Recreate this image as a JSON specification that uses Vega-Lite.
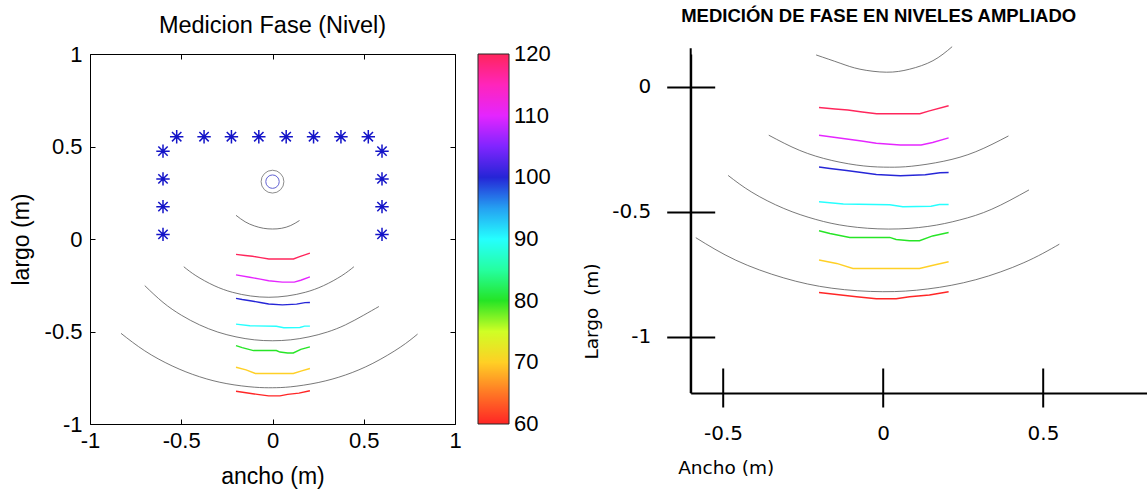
{
  "$schema": "https://vega.github.io/schema/vega-lite/v6.json",
  "background": "white",
  "padding": {"left": 10, "top": 6, "right": 0, "bottom": 0},
  "bounds": "flush",
  "spacing": 235.7,
  "config": {"view": {"stroke": null}, "font": "Liberation Sans"},
  "datasets": {
    "contornos": [
      {"l": "c120", "nivel": 120, "x": -0.2, "y": -0.083}, {"l": "c120", "nivel": 120, "x": -0.15, "y": -0.089}, {"l": "c120", "nivel": 120, "x": -0.11, "y": -0.093}, {"l": "c120", "nivel": 120, "x": -0.065, "y": -0.101}, {"l": "c120", "nivel": 120, "x": -0.02, "y": -0.108}, {"l": "c120", "nivel": 120, "x": 0.115, "y": -0.108}, {"l": "c120", "nivel": 120, "x": 0.145, "y": -0.097}, {"l": "c120", "nivel": 120, "x": 0.205, "y": -0.076},
      {"l": "c110", "nivel": 110, "x": -0.2, "y": -0.194}, {"l": "c110", "nivel": 110, "x": -0.125, "y": -0.207}, {"l": "c110", "nivel": 110, "x": -0.067, "y": -0.217}, {"l": "c110", "nivel": 110, "x": -0.021, "y": -0.226}, {"l": "c110", "nivel": 110, "x": 0.054, "y": -0.233}, {"l": "c110", "nivel": 110, "x": 0.119, "y": -0.233}, {"l": "c110", "nivel": 110, "x": 0.155, "y": -0.223}, {"l": "c110", "nivel": 110, "x": 0.205, "y": -0.205},
      {"l": "c100", "nivel": 100, "x": -0.2, "y": -0.321}, {"l": "c100", "nivel": 100, "x": -0.166, "y": -0.327}, {"l": "c100", "nivel": 100, "x": -0.114, "y": -0.335}, {"l": "c100", "nivel": 100, "x": -0.067, "y": -0.343}, {"l": "c100", "nivel": 100, "x": -0.021, "y": -0.351}, {"l": "c100", "nivel": 100, "x": 0.054, "y": -0.356}, {"l": "c100", "nivel": 100, "x": 0.132, "y": -0.352}, {"l": "c100", "nivel": 100, "x": 0.178, "y": -0.344}, {"l": "c100", "nivel": 100, "x": 0.205, "y": -0.343},
      {"l": "c90", "nivel": 90, "x": -0.2, "y": -0.46}, {"l": "c90", "nivel": 90, "x": -0.124, "y": -0.469}, {"l": "c90", "nivel": 90, "x": 0.021, "y": -0.472}, {"l": "c90", "nivel": 90, "x": 0.062, "y": -0.48}, {"l": "c90", "nivel": 90, "x": 0.15, "y": -0.478}, {"l": "c90", "nivel": 90, "x": 0.176, "y": -0.471}, {"l": "c90", "nivel": 90, "x": 0.205, "y": -0.471},
      {"l": "c80", "nivel": 80, "x": -0.2, "y": -0.576}, {"l": "c80", "nivel": 80, "x": -0.166, "y": -0.587}, {"l": "c80", "nivel": 80, "x": -0.104, "y": -0.603}, {"l": "c80", "nivel": 80, "x": 0.021, "y": -0.603}, {"l": "c80", "nivel": 80, "x": 0.041, "y": -0.611}, {"l": "c80", "nivel": 80, "x": 0.083, "y": -0.616}, {"l": "c80", "nivel": 80, "x": 0.114, "y": -0.616}, {"l": "c80", "nivel": 80, "x": 0.155, "y": -0.597}, {"l": "c80", "nivel": 80, "x": 0.205, "y": -0.583},
      {"l": "c70", "nivel": 70, "x": -0.2, "y": -0.693}, {"l": "c70", "nivel": 70, "x": -0.145, "y": -0.707}, {"l": "c70", "nivel": 70, "x": -0.094, "y": -0.727}, {"l": "c70", "nivel": 70, "x": 0.114, "y": -0.727}, {"l": "c70", "nivel": 70, "x": 0.16, "y": -0.713}, {"l": "c70", "nivel": 70, "x": 0.205, "y": -0.7},
      {"l": "c60", "nivel": 60, "x": -0.2, "y": -0.823}, {"l": "c60", "nivel": 60, "x": -0.145, "y": -0.831}, {"l": "c60", "nivel": 60, "x": -0.083, "y": -0.84}, {"l": "c60", "nivel": 60, "x": -0.021, "y": -0.848}, {"l": "c60", "nivel": 60, "x": 0.041, "y": -0.848}, {"l": "c60", "nivel": 60, "x": 0.083, "y": -0.84}, {"l": "c60", "nivel": 60, "x": 0.145, "y": -0.833}, {"l": "c60", "nivel": 60, "x": 0.205, "y": -0.82}
    ],
    "arcosIzq": [
      {"a": "L1", "x": -0.2, "y": 0.128}, {"a": "L1", "x": -0.15, "y": 0.093}, {"a": "L1", "x": -0.1, "y": 0.071}, {"a": "L1", "x": -0.05, "y": 0.058}, {"a": "L1", "x": 0, "y": 0.054}, {"a": "L1", "x": 0.05, "y": 0.058}, {"a": "L1", "x": 0.1, "y": 0.073}, {"a": "L1", "x": 0.148, "y": 0.1},
      {"a": "L2", "x": -0.486, "y": -0.15}, {"a": "L2", "x": -0.42, "y": -0.198}, {"a": "L2", "x": -0.32, "y": -0.252}, {"a": "L2", "x": -0.22, "y": -0.288}, {"a": "L2", "x": -0.12, "y": -0.308}, {"a": "L2", "x": -0.02, "y": -0.315}, {"a": "L2", "x": 0.08, "y": -0.308}, {"a": "L2", "x": 0.18, "y": -0.288}, {"a": "L2", "x": 0.28, "y": -0.252}, {"a": "L2", "x": 0.38, "y": -0.198}, {"a": "L2", "x": 0.446, "y": -0.15},
      {"a": "L3", "x": -0.7, "y": -0.252}, {"a": "L3", "x": -0.6, "y": -0.3425}, {"a": "L3", "x": -0.5, "y": -0.4115}, {"a": "L3", "x": -0.4, "y": -0.464}, {"a": "L3", "x": -0.3, "y": -0.503}, {"a": "L3", "x": -0.2, "y": -0.529}, {"a": "L3", "x": -0.1, "y": -0.545}, {"a": "L3", "x": 0, "y": -0.55}, {"a": "L3", "x": 0.1, "y": -0.545}, {"a": "L3", "x": 0.2, "y": -0.529}, {"a": "L3", "x": 0.3, "y": -0.503}, {"a": "L3", "x": 0.4, "y": -0.464}, {"a": "L3", "x": 0.5, "y": -0.4115}, {"a": "L3", "x": 0.583, "y": -0.365},
      {"a": "L4", "x": -0.83, "y": -0.51}, {"a": "L4", "x": -0.7, "y": -0.6045}, {"a": "L4", "x": -0.55, "y": -0.686}, {"a": "L4", "x": -0.4, "y": -0.7445}, {"a": "L4", "x": -0.25, "y": -0.782}, {"a": "L4", "x": -0.1, "y": -0.801}, {"a": "L4", "x": 0, "y": -0.804}, {"a": "L4", "x": 0.1, "y": -0.799}, {"a": "L4", "x": 0.25, "y": -0.776}, {"a": "L4", "x": 0.4, "y": -0.735}, {"a": "L4", "x": 0.55, "y": -0.672}, {"a": "L4", "x": 0.7, "y": -0.585}, {"a": "L4", "x": 0.795, "y": -0.514}
    ],
    "arcosDer": [
      {"a": "R1", "x": -0.209, "y": 0.127}, {"a": "R1", "x": -0.134, "y": 0.094}, {"a": "R1", "x": -0.072, "y": 0.07}, {"a": "R1", "x": 0.011, "y": 0.058}, {"a": "R1", "x": 0.083, "y": 0.07}, {"a": "R1", "x": 0.156, "y": 0.104}, {"a": "R1", "x": 0.216, "y": 0.16},
      {"a": "R2", "x": -0.357, "y": -0.194}, {"a": "R2", "x": -0.26, "y": -0.255}, {"a": "R2", "x": -0.16, "y": -0.295}, {"a": "R2", "x": -0.06, "y": -0.317}, {"a": "R2", "x": 0.02, "y": -0.322}, {"a": "R2", "x": 0.09, "y": -0.318}, {"a": "R2", "x": 0.19, "y": -0.298}, {"a": "R2", "x": 0.29, "y": -0.26}, {"a": "R2", "x": 0.392, "y": -0.197},
      {"a": "R3", "x": -0.484, "y": -0.355}, {"a": "R3", "x": -0.41, "y": -0.422}, {"a": "R3", "x": -0.31, "y": -0.487}, {"a": "R3", "x": -0.21, "y": -0.531}, {"a": "R3", "x": -0.11, "y": -0.558}, {"a": "R3", "x": 0.017, "y": -0.5695}, {"a": "R3", "x": 0.14, "y": -0.559}, {"a": "R3", "x": 0.24, "y": -0.533}, {"a": "R3", "x": 0.34, "y": -0.49}, {"a": "R3", "x": 0.456, "y": -0.413},
      {"a": "R4", "x": -0.585, "y": -0.604}, {"a": "R4", "x": -0.46, "y": -0.694}, {"a": "R4", "x": -0.31, "y": -0.765}, {"a": "R4", "x": -0.16, "y": -0.806}, {"a": "R4", "x": -0.001, "y": -0.82}, {"a": "R4", "x": 0.14, "y": -0.809}, {"a": "R4", "x": 0.29, "y": -0.772}, {"a": "R4", "x": 0.44, "y": -0.704}, {"a": "R4", "x": 0.551, "y": -0.63}
    ],
    "estrellas": [
      {"x": -0.6, "y": 0.475}, {"x": -0.6, "y": 0.325}, {"x": -0.6, "y": 0.175}, {"x": -0.6, "y": 0.025},
      {"x": 0.6, "y": 0.475}, {"x": 0.6, "y": 0.325}, {"x": 0.6, "y": 0.175}, {"x": 0.6, "y": 0.025},
      {"x": -0.525, "y": 0.553}, {"x": -0.375, "y": 0.553}, {"x": -0.225, "y": 0.553}, {"x": -0.075, "y": 0.553},
      {"x": 0.075, "y": 0.553}, {"x": 0.225, "y": 0.553}, {"x": 0.375, "y": 0.553}, {"x": 0.525, "y": 0.553}
    ],
    "fuente": [{"x": 0, "y": 0.31}],
    "ejeVertical": [{"x": -0.601, "ytop": 0.154, "ybase": -1.2252}]
  },
  "resolve": {"scale": {"color": "independent"}},
  "hconcat": [
    {
      "width": 365,
      "height": 370,
      "view": {"stroke": "black", "strokeWidth": 1},
      "title": {"text": "Medicion Fase (Nivel)", "font": "Liberation Sans", "fontSize": 23.5, "fontWeight": "normal", "color": "black", "frame": "group", "anchor": "middle", "baseline": "alphabetic", "offset": -13},
      "resolve": {"scale": {"x": "independent", "y": "independent"}},
      "layer": [
        {
          "encoding": {
            "x": {"field": "x", "type": "quantitative", "scale": {"domain": [-1, 1], "nice": false, "zero": false},
              "axis": {"orient": "bottom", "values": [-1, -0.5, 0, 0.5, 1], "labelExpr": "'' + datum.value", "grid": false, "domain": false, "tickSize": -5, "tickColor": "black", "labelPadding": 11, "labelFont": "Liberation Sans", "labelFontSize": 22, "labelColor": "black", "labelFlush": false, "title": "ancho (m)", "titleFont": "Liberation Sans", "titleFontSize": 23, "titleFontWeight": "normal", "titleColor": "black", "titleBaseline": "alphabetic", "titleY": 59}},
            "y": {"field": "y", "type": "quantitative", "scale": {"domain": [-1, 1], "nice": false, "zero": false},
              "axis": {"orient": "left", "values": [-1, -0.5, 0, 0.5, 1], "labelExpr": "'' + datum.value", "grid": false, "domain": false, "tickSize": -5, "tickColor": "black", "labelPadding": 13, "labelFont": "Liberation Sans", "labelFontSize": 22, "labelColor": "black", "labelFlush": false, "title": "largo (m)", "titleFont": "Liberation Sans", "titleFontSize": 23, "titleFontWeight": "normal", "titleColor": "black", "titleBaseline": "middle", "titleX": -68.5}}
          },
          "layer": [
            {
              "data": {"name": "arcosIzq"},
              "mark": {"type": "line", "color": "#555555", "strokeWidth": 0.8, "interpolate": "natural"},
              "encoding": {"detail": {"field": "a"}}
            },
            {
              "data": {"name": "contornos"},
              "mark": {"type": "line", "strokeWidth": 1.4, "opacity": 0.85},
              "encoding": {
                "detail": {"field": "l"},
                "color": {"field": "nivel", "type": "quantitative",
                  "scale": {"domain": [60, 120], "range": ["#ff0000", "#ff6000", "#ffc800", "#c8ff00", "#00e000", "#00ff90", "#00ffff", "#0090f0", "#0000d0", "#6a00ff", "#e000ff", "#ff00b0", "#ff0040"]},
                  "legend": {"title": null, "orient": "right", "offset": 22, "padding": 0, "direction": "vertical", "gradientLength": 370, "gradientThickness": 31, "gradientStrokeColor": "black", "gradientStrokeWidth": 1, "values": [60.0001, 70, 80, 90, 100, 110, 119.9999], "labelExpr": "'' + round(datum.value)", "labelFont": "Liberation Sans", "labelFontSize": 22, "labelColor": "black", "labelOffset": 5, "labelBaseline": "middle", "labelOverlap": false}}
              }
            },
            {
              "data": {"name": "fuente"},
              "mark": {"type": "point", "shape": "circle", "size": 520, "filled": false, "color": "#333333", "strokeWidth": 0.8}
            },
            {
              "data": {"name": "fuente"},
              "mark": {"type": "point", "shape": "circle", "size": 180, "filled": false, "color": "#2020c0", "strokeWidth": 1}
            }
          ]
        },
        {
          "data": {"name": "estrellas"},
          "mark": {"type": "point", "shape": "M-1,0L1,0M0,-1L0,1M-0.7,-0.7L0.7,0.7M-0.7,0.7L0.7,-0.7", "size": 180, "filled": false, "color": "#1414c8", "strokeWidth": 1.5, "opacity": 1},
          "encoding": {
            "x": {"field": "x", "type": "quantitative", "scale": {"domain": [-1, 1], "nice": false, "zero": false},
              "axis": {"orient": "top", "values": [-1, -0.5, 0, 0.5, 1], "labels": false, "domain": false, "grid": false, "tickSize": -5, "tickColor": "black", "title": null}},
            "y": {"field": "y", "type": "quantitative", "scale": {"domain": [-1, 1], "nice": false, "zero": false},
              "axis": {"orient": "right", "values": [-1, -0.5, 0, 0.5, 1], "labels": false, "domain": false, "grid": false, "tickSize": -5, "tickColor": "black", "title": null}}
          }
        }
      ]
    },
    {
      "width": 456,
      "height": 339,
      "view": {"stroke": null},
      "title": {"text": "MEDICIÓN DE FASE EN NIVELES AMPLIADO", "font": "Liberation Sans", "fontSize": 18.5, "fontWeight": "bold", "color": "black", "frame": "group", "anchor": "middle", "baseline": "alphabetic", "offset": 5, "dx": -40},
      "resolve": {"scale": {"x": "independent", "y": "independent"}},
      "layer": [
        {
          "encoding": {
            "x": {"field": "x", "type": "quantitative", "scale": {"domain": [-0.601, 0.824], "nice": false, "zero": false},
              "axis": {"orient": "bottom", "values": [-0.5, 0, 0.5], "labelExpr": "'' + datum.value", "grid": false, "domain": true, "domainColor": "black", "domainWidth": 2, "tickSize": 14, "tickWidth": 2, "tickColor": "black", "labelPadding": 16, "labelFont": "DejaVu Sans", "labelFontSize": 20, "labelColor": "black", "labelFlush": false, "title": "Ancho (m)", "titleFont": "DejaVu Sans", "titleFontSize": 18.5, "titleFontWeight": "normal", "titleColor": "black", "titleAlign": "left", "titleX": -13, "titleY": 74, "titleBaseline": "middle"}},
            "y": {"field": "y", "type": "quantitative", "scale": {"domain": [-1.2252, 0.1308], "nice": false, "zero": false},
              "axis": {"orient": "left", "values": [0, -0.5, -1], "labelExpr": "'' + datum.value", "grid": false, "domain": true, "domainColor": "black", "domainWidth": 2, "tickSize": 24, "tickWidth": 2, "tickColor": "black", "labelPadding": 16, "labelFont": "DejaVu Sans", "labelFontSize": 20, "labelColor": "black", "labelFlush": false, "title": "Largo\u00a0 (m)", "titleFont": "DejaVu Sans", "titleFontSize": 18.5, "titleFontWeight": "normal", "titleColor": "black", "titleX": -99.7, "titleY": 257, "titleBaseline": "middle", "titleAlign": "center"}}
          },
          "layer": [
            {
              "data": {"name": "contornos"},
              "mark": {"type": "line", "strokeWidth": 1.4, "opacity": 0.85},
              "encoding": {
                "detail": {"field": "l"},
                "color": {"field": "nivel", "type": "quantitative",
                  "scale": {"domain": [60, 120], "range": ["#ff0000", "#ff6000", "#ffc800", "#c8ff00", "#00e000", "#00ff90", "#00ffff", "#0090f0", "#0000d0", "#6a00ff", "#e000ff", "#ff00b0", "#ff0040"]},
                  "legend": null}
              }
            },
            {
              "data": {"name": "ejeVertical"},
              "mark": {"type": "rule", "color": "black", "strokeWidth": 2},
              "encoding": {"x": {"field": "x", "type": "quantitative"}, "y": {"field": "ytop", "type": "quantitative"}, "y2": {"field": "ybase"}}
            }
          ]
        },
        {
          "data": {"name": "arcosDer"},
          "mark": {"type": "line", "color": "#555555", "strokeWidth": 0.8, "interpolate": "natural"},
          "encoding": {
            "detail": {"field": "a"},
            "x": {"field": "x", "type": "quantitative", "scale": {"domain": [-0.601, 0.824], "nice": false, "zero": false},
              "axis": {"orient": "top", "offset": -339, "values": [-0.5, 0, 0.5], "labels": false, "domain": false, "grid": false, "tickSize": 25, "tickWidth": 2, "tickColor": "black", "title": null}},
            "y": {"field": "y", "type": "quantitative", "scale": {"domain": [-1.2252, 0.1308], "nice": false, "zero": false},
              "axis": {"orient": "right", "offset": -456, "values": [0, -0.5, -1], "labels": false, "domain": false, "grid": false, "tickSize": 24, "tickWidth": 2, "tickColor": "black", "title": null}}
          }
        }
      ]
    }
  ]
}
